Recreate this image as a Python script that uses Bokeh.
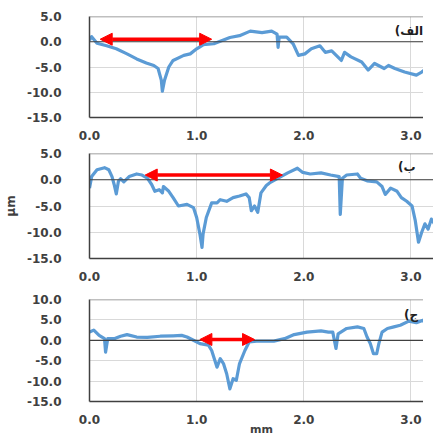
from bokeh.plotting import figure
from bokeh.layouts import column
from bokeh.models import Span, Arrow, NormalHead, Label, FixedTicker, PrintfTickFormatter, Range1d
from bokeh.embed import file_html
from bokeh.resources import INLINE

# ---- data ----
x_ticks = [0, 1, 2, 3]

x_a = [0.0, 0.02, 0.07, 0.16, 0.25, 0.35, 0.44, 0.53, 0.60, 0.64, 0.67, 0.68, 0.70, 0.74, 0.78, 0.88,
       0.94, 1.00, 1.06, 1.16, 1.22, 1.31, 1.40, 1.50, 1.61, 1.70, 1.75, 1.76, 1.77, 1.84, 1.90, 1.95,
       2.01, 2.07, 2.15, 2.20, 2.26, 2.35, 2.38, 2.44, 2.54, 2.60, 2.66, 2.75, 2.79, 2.85, 2.94, 3.05,
       3.10, 3.16, 3.22, 3.27]
y_a = [0.3, 1.0, -0.3, -0.8, -1.4, -2.4, -3.4, -4.2, -4.7, -5.3, -7.6, -9.8, -7.6, -5.0, -3.7, -2.7,
       -2.4, -1.4, -0.6, -0.4, 0.1, 0.85, 1.2, 2.1, 1.8, 2.1, 1.5, -1.1, 0.9, 0.9, -0.4, -2.7,
       -2.4, -1.4, -0.8, -2.1, -1.8, -3.7, -2.1, -3.0, -4.0, -5.6, -4.3, -5.3, -4.7, -5.3, -6.0, -6.6,
       -6.0, -5.0, -6.0, -6.3]

x_b = [0.0, 0.02, 0.07, 0.14, 0.18, 0.21, 0.23, 0.25, 0.27, 0.29, 0.32, 0.37, 0.44, 0.49, 0.54, 0.58,
       0.61, 0.65, 0.68, 0.69, 0.74, 0.78, 0.83, 0.91, 0.97, 1.00, 1.03, 1.05, 1.06, 1.09, 1.14, 1.19,
       1.22, 1.28, 1.34, 1.40, 1.46, 1.49, 1.51, 1.54, 1.57, 1.60, 1.65, 1.68, 1.76, 1.85, 1.94, 1.99,
       2.06, 2.16, 2.25, 2.33, 2.34, 2.36, 2.40, 2.50, 2.53, 2.59, 2.68, 2.73, 2.76, 2.81, 2.87, 2.91,
       2.96, 3.01, 3.04, 3.07, 3.10, 3.13, 3.16, 3.19, 3.22, 3.25]
y_b = [-1.6, 0.6, 1.9, 2.3, 1.9, 0.6, -0.9, -2.7, -0.3, 0.2, -0.4, 0.6, 1.1, 0.9, 0.3, -0.9,
       -2.2, -1.9, -2.5, -1.3, -2.2, -3.4, -5.0, -4.7, -5.3, -7.2, -10.3, -12.9, -10.3, -7.2, -4.4, -4.4,
       -3.8, -4.1, -3.4, -3.1, -2.7, -3.4, -5.9, -5.0, -6.2, -2.5, -1.1, -0.6, 0.3, 1.3, 2.2, 1.4,
       1.1, 1.3, 0.9, 0.6, -6.6, 0.3, 0.9, 1.1, 0.3, -0.2, -0.4, -1.3, -2.8, -1.6, -2.2, -3.4,
       -4.1, -5.0, -7.8, -11.9, -10.0, -8.4, -9.4, -7.5, -8.4, -7.2]

x_c = [0.0, 0.04, 0.09, 0.14, 0.15, 0.17, 0.23, 0.29, 0.35, 0.44, 0.54, 0.66, 0.78, 0.86, 0.91, 0.97,
       1.03, 1.11, 1.14, 1.19, 1.22, 1.25, 1.28, 1.31, 1.34, 1.37, 1.40, 1.45, 1.49, 1.56, 1.65, 1.72,
       1.82, 1.91, 2.03, 2.16, 2.23, 2.27, 2.30, 2.32, 2.40, 2.50, 2.56, 2.59, 2.62, 2.65, 2.68, 2.70,
       2.73, 2.78, 2.84, 2.90, 2.98, 3.05, 3.11, 3.16, 3.19, 3.26]
y_c = [2.0, 2.5, 1.2, 0.4, -2.9, 0.4, 0.4, 1.0, 1.4, 0.8, 0.7, 1.0, 1.1, 1.2, 0.8, 0.0,
       -0.8, -1.2, -2.5, -6.6, -4.5, -5.7, -8.2, -11.9, -9.4, -9.8, -5.7, -2.5, -0.4, -0.2, -0.2, -0.2,
       0.4, 1.4, 2.0, 2.3, 2.0, 2.0, -2.0, 1.6, 2.9, 3.3, 2.9, 0.8, -0.8, -3.3, -3.3, -0.8,
       2.0, 2.9, 3.3, 3.7, 4.7, 4.3, 4.9, 3.3, 4.5, 4.1]

# arrows: (x_start, x_end, y)
arrow_a = (0.10, 1.14, 0.5)
arrow_b = (0.52, 1.80, 0.9)
arrow_c = (1.03, 1.54, 0.2)

RLM = "\u200f"
tag_a = (RLM + "الف)" + RLM, 2.98, 2.1)
tag_b = (RLM + "ب)" + RLM, 2.96, 2.5)
tag_c = (RLM + "ج)" + RLM, 3.00, 6.1)

TXT = "#404040"
FONT = "DejaVu Sans"


def panel(xs, ys, ymin, ymax, yticks, arrow, tag, top_b, frame_h, bot_b):
    p = figure(frame_width=344, frame_height=frame_h,
               x_range=Range1d(0, 3.21), y_range=Range1d(ymin, ymax),
               output_backend="svg", toolbar_location=None,
               min_border_left=79, min_border_right=0,
               min_border_top=top_b, min_border_bottom=bot_b)
    p.outline_line_color = None
    p.background_fill_color = "white"
    p.border_fill_color = "white"

    p.xaxis.ticker = FixedTicker(ticks=x_ticks)
    p.yaxis.ticker = FixedTicker(ticks=yticks)
    p.xgrid.ticker = FixedTicker(ticks=x_ticks)
    p.ygrid.ticker = FixedTicker(ticks=yticks)
    p.xaxis.formatter = PrintfTickFormatter(format="%.1f")
    p.yaxis.formatter = PrintfTickFormatter(format="%.1f")
    p.grid.grid_line_color = "#d9d9d9"
    p.grid.grid_line_width = 1

    for ax in (p.xaxis, p.yaxis):
        ax.major_tick_line_color = None
        ax.minor_tick_line_color = None
        ax.axis_line_color = "#404040"
        ax.axis_line_width = 1.5
        ax.major_label_text_font = FONT
        ax.major_label_text_font_style = "bold"
        ax.major_label_text_font_size = "12px"
        ax.major_label_text_color = TXT
    p.xaxis.major_label_standoff = 7
    p.yaxis.major_label_standoff = 22

    p.add_layout(Span(location=ymax, dimension="width", line_color="#808080", line_width=1.5))
    p.add_layout(Span(location=0, dimension="width", line_color="#404040", line_width=1.2))

    p.line(xs, ys, line_color="#5b9bd5", line_width=3.2, line_join="round")

    xs0, xe0, ya = arrow
    p.add_layout(Arrow(x_start=xs0, y_start=ya, x_end=xe0, y_end=ya,
                       start=NormalHead(size=12, fill_color="red", line_color="red"),
                       end=NormalHead(size=12, fill_color="red", line_color="red"),
                       line_color="red", line_width=3.5))

    t, tx, ty = tag
    p.add_layout(Label(x=tx, y=ty, text=t, text_align="center", text_baseline="middle",
                       text_font=FONT, text_font_style="bold", text_font_size="12px",
                       text_color="#202020"))
    return p


p1 = panel(x_a, y_a, -15, 5, [-15, -10, -5, 0, 5], arrow_a, tag_a, 16, 101, 24)
p2 = panel(x_b, y_b, -15, 5, [-15, -10, -5, 0, 5], arrow_b, tag_b, 11, 105, 24)
p3 = panel(x_c, y_c, -15, 10, [-15, -10, -5, 0, 5, 10], arrow_c, tag_c, 16, 102, 24)

p2.yaxis.axis_label = "µm"
p2.yaxis.axis_label_text_font = FONT
p2.yaxis.axis_label_text_font_style = "bold"
p2.yaxis.axis_label_text_font_size = "12px"
p2.yaxis.axis_label_text_color = TXT
p2.yaxis.axis_label_standoff = 6

p3.xaxis.axis_label = "mm"
p3.xaxis.axis_label_text_font = FONT
p3.xaxis.axis_label_text_font_style = "bold"
p3.xaxis.axis_label_text_font_size = "11px"
p3.xaxis.axis_label_text_color = TXT
p3.xaxis.axis_label_standoff = -4

layout = column(p1, p2, p3, spacing=0)

open("out.html", "w").write(file_html(layout, INLINE))
